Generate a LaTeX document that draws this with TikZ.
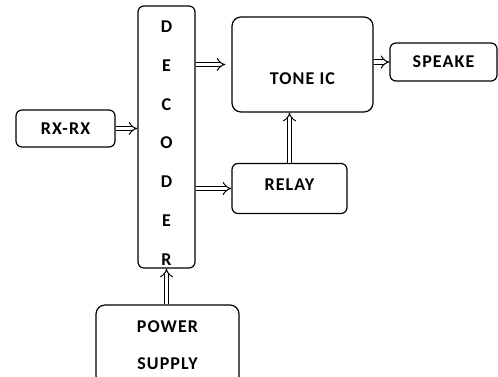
\documentclass[tikz,border=0pt]{standalone}
\usepackage{fontspec}
\newfontfamily\boxfont[LetterSpace=6]{Carlito}
\usepackage{tikz}
\usetikzlibrary{arrows.meta, positioning}
\tikzset{
    dblarrow/.style={double, double distance=3.5pt, line width=1pt, -{Implies}},
    box/.style={draw, line width=1.2pt, rectangle, rounded corners=6pt, fill=white, font=\boxfont\bfseries\fontsize{18}{21}\selectfont, align=center}
}

\begin{document}
\begin{tikzpicture}[x=1pt, y=-1pt]
    \useasboundingbox (0,0) rectangle (498,376);
    \node (rx) [box, minimum width=99pt, minimum height=37pt] at (65.5,128.5) {RX-RX};
    \node (dec) [box, minimum width=57pt, minimum height=262pt] at (166.5,137) {};
    \begin{scope}
        \clip (dec.south west) rectangle (dec.north east);
        \node (declet) [anchor=base, inner sep=0pt, align=center, font=\boxfont\bfseries\fontsize{18}{38.7}\selectfont] at (166.5,265) {D\\E\\C\\O\\D\\E\\R};
    \end{scope}
    \node (tone) [box, minimum width=141pt, minimum height=95pt, rounded corners=9pt, text height=39pt, text depth=0pt] at (302.5,64.5) {TONE IC};
    \node (spk) [box, minimum width=107pt, minimum height=38pt] at (443.5,62) {SPEAKE};
    \node (relay) [box, minimum width=115pt, minimum height=50pt, text height=12pt, text depth=9pt] at (289.5,188.5) {RELAY};
    \node (pwr) [box, minimum width=143pt, minimum height=80pt, rounded corners=9pt, font=\boxfont\bfseries\fontsize{18}{37}\selectfont] at (167.5,345) {POWER\\SUPPLY};
    % connections
    \draw [dblarrow] (rx.east) -- (dec.west |- rx.east);
    \draw [dblarrow, shorten >=6pt] (dec.east |- tone.west) -- (tone.west);
    \draw [dblarrow] (dec.east |- relay.west) -- (relay.west);
    \draw [dblarrow] (relay.north) -- (relay.north |- tone.south);
    \draw [dblarrow] (tone.east |- spk.west) -- (spk.west);
    \draw [dblarrow] (dec.south |- pwr.north) -- (dec.south);
\end{tikzpicture}
\end{document}
